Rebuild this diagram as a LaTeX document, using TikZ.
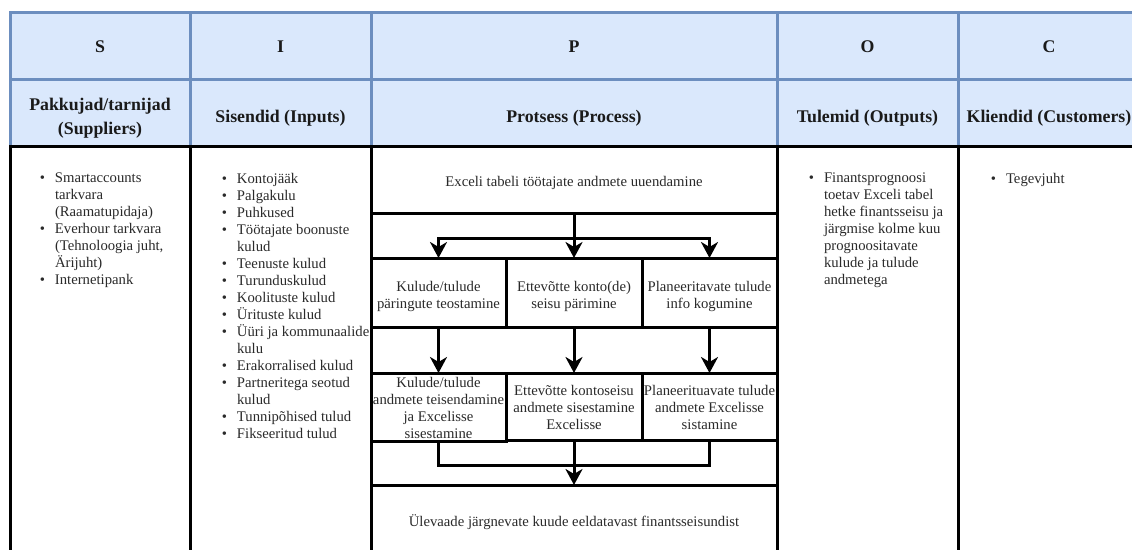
\documentclass[tikz,border=0pt]{standalone}
\usepackage{fontspec}
\setmainfont{Liberation Serif}
\usetikzlibrary{arrows.meta}
\definecolor{hdrfill}{HTML}{DAE8FC}
\definecolor{hdrline}{HTML}{6C8EBF}
\definecolor{ink}{HTML}{1A1A1A}
\definecolor{bodyink}{HTML}{2A2A2A}
% bullet hanging to the left of the item text
\newcommand\bitem{\makebox[0pt][r]{\textbullet\hspace{10pt}}}
% centred lines, set a little lower than the box middle
\newcommand\dn[2]{\raisebox{-#1}[\height][\depth]{\begin{tabular}{@{}c@{}}#2\end{tabular}}}

\begin{document}
\begin{tikzpicture}[x=1pt,y=-1pt,
  hdr/.style={draw=hdrline, fill=hdrfill, line width=3pt, anchor=north west,
    inner sep=0pt, outer sep=0pt, minimum height=67pt, text=ink,
    font=\fontsize{17.8}{24}\selectfont\bfseries},
  cell/.style={draw=black, line width=3pt, anchor=north west, inner sep=0pt, outer sep=0pt},
  stepbox/.style={cell, text=bodyink, font=\fontsize{14.7}{17}\selectfont},
  itemlist/.style={anchor=north west, inner sep=0pt, outer sep=0pt, align=left, text=bodyink,
    font=\fontsize{14.7}{17}\selectfont},
  conn/.style={line width=3pt},
  arr/.style={conn, -{Stealth[length=16pt,width=17pt,inset=5pt]}}]

\path[use as bounding box] (0,0) rectangle (1132,549);
\clip (0,0) rectangle (1132,549);
\fill[white] (0,0) rectangle (1132,549);

% header: letters
\node[hdr, minimum width=180pt] (hS) at (10,12)  {\dn{2pt}{S}};
\node[hdr, minimum width=181pt] (hI) at (190,12) {\dn{2pt}{I}};
\node[hdr, minimum width=406pt] (hP) at (371,12) {\dn{2pt}{P}};
\node[hdr, minimum width=181pt] (hO) at (777,12) {\dn{2pt}{O}};
\node[hdr, minimum width=182pt] (hC) at (958,12) {\dn{2pt}{C}};
% header: titles
\node[hdr, minimum width=180pt] (tS) at (10,79)  {\dn{5pt}{Pakkujad/tarnijad\\(Suppliers)}};
\node[hdr, minimum width=181pt] (tI) at (190,79) {\dn{5pt}{Sisendid (Inputs)}};
\node[hdr, minimum width=406pt] (tP) at (371,79) {\dn{5pt}{Protsess (Process)}};
\node[hdr, minimum width=181pt] (tO) at (777,79) {\dn{5pt}{Tulemid (Outputs)}};
\node[hdr, minimum width=182pt] (tC) at (958,79) {\dn{5pt}{Kliendid (Customers)}};

% body columns
\node[cell, minimum width=180pt, minimum height=424pt] (bS) at (10,146)  {};
\node[cell, minimum width=181pt, minimum height=424pt] (bI) at (190,146) {};
\node[cell, minimum width=406pt, minimum height=424pt] (bP) at (371,146) {};
\node[cell, minimum width=181pt, minimum height=424pt] (bO) at (777,146) {};
\node[cell, minimum width=182pt, minimum height=424pt] (bC) at (958,146) {};

% lists
\node[itemlist] (lS) at (55,173) {\bitem Smartaccounts\\ tarkvara\\ (Raamatupidaja)\\
  \bitem Everhour tarkvara\\ (Tehnoloogia juht,\\ Ärijuht)\\ \bitem Internetipank};
\node[itemlist] (lI) at (237,173) {\bitem Kontojääk\\ \bitem Palgakulu\\ \bitem Puhkused\\
  \bitem Töötajate boonuste\\ kulud\\ \bitem Teenuste kulud\\ \bitem Turunduskulud\\
  \bitem Koolituste kulud\\ \bitem Ürituste kulud\\ \bitem Üüri ja kommunaalide\\ kulu\\
  \bitem Erakorralised kulud\\ \bitem Partneritega seotud\\ kulud\\
  \bitem Tunnipõhised tulud\\ \bitem Fikseeritud tulud};
\node[itemlist] (lO) at (824,173) {\bitem Finantsprognoosi\\ toetav Exceli tabel\\
  hetke finantsseisu ja\\ järgmise kolme kuu\\ prognoositavate\\ kulude ja tulude\\ andmetega};
\node[itemlist] (lC) at (1006,173) {\bitem Tegevjuht};

% process steps
\node[stepbox, minimum width=406pt, minimum height=67pt] (p1) at (371,146)
  {\dn{4pt}{Exceli tabeli töötajate andmete uuendamine}};
\node[stepbox, minimum width=135pt, minimum height=69pt] (p2a) at (371,258)
  {\dn{4pt}{Kulude/tulude\\päringute teostamine}};
\node[stepbox, minimum width=136pt, minimum height=69pt] (p2b) at (506,258)
  {\dn{4pt}{Ettevõtte konto(de)\\seisu pärimine}};
\node[stepbox, minimum width=135pt, minimum height=69pt] (p2c) at (642,258)
  {\dn{4pt}{Planeeritavate tulude\\info kogumine}};
\node[stepbox, minimum width=135pt, minimum height=67pt] (p3a) at (371,373)
  {\dn{3pt}{Kulude/tulude\\andmete teisendamine\\ja Excelisse\\sisestamine}};
\node[stepbox, minimum width=136pt, minimum height=67pt] (p3b) at (506,373)
  {\dn{3pt}{Ettevõtte kontoseisu\\andmete sisestamine\\Excelisse}};
\node[stepbox, minimum width=135pt, minimum height=67pt] (p3c) at (642,373)
  {\dn{3pt}{Planeerituavate tulude\\andmete Excelisse\\sistamine}};
\node[stepbox, minimum width=406pt, minimum height=74pt] (p4) at (371,485)
  {\dn{1pt}{Ülevaade järgnevate kuude eeldatavast finantsseisundist}};

% connectors
\coordinate (split) at (574,238);
\coordinate (merge) at (574,465);
\draw[conn] (p1.south) -- (split);
\draw[arr] (split) -| (p2a.north);
\draw[arr] (split) -- (p2b.north);
\draw[arr] (split) -| (p2c.north);
\draw[arr] (p2a.south) -- (p3a.north);
\draw[arr] (p2b.south) -- (p3b.north);
\draw[arr] (p2c.south) -- (p3c.north);
\draw[conn] (p3a.south) |- (merge);
\draw[conn] (p3c.south) |- (merge);
\draw[arr] (p3b.south) -- (p4.north);
\end{tikzpicture}
\end{document}
